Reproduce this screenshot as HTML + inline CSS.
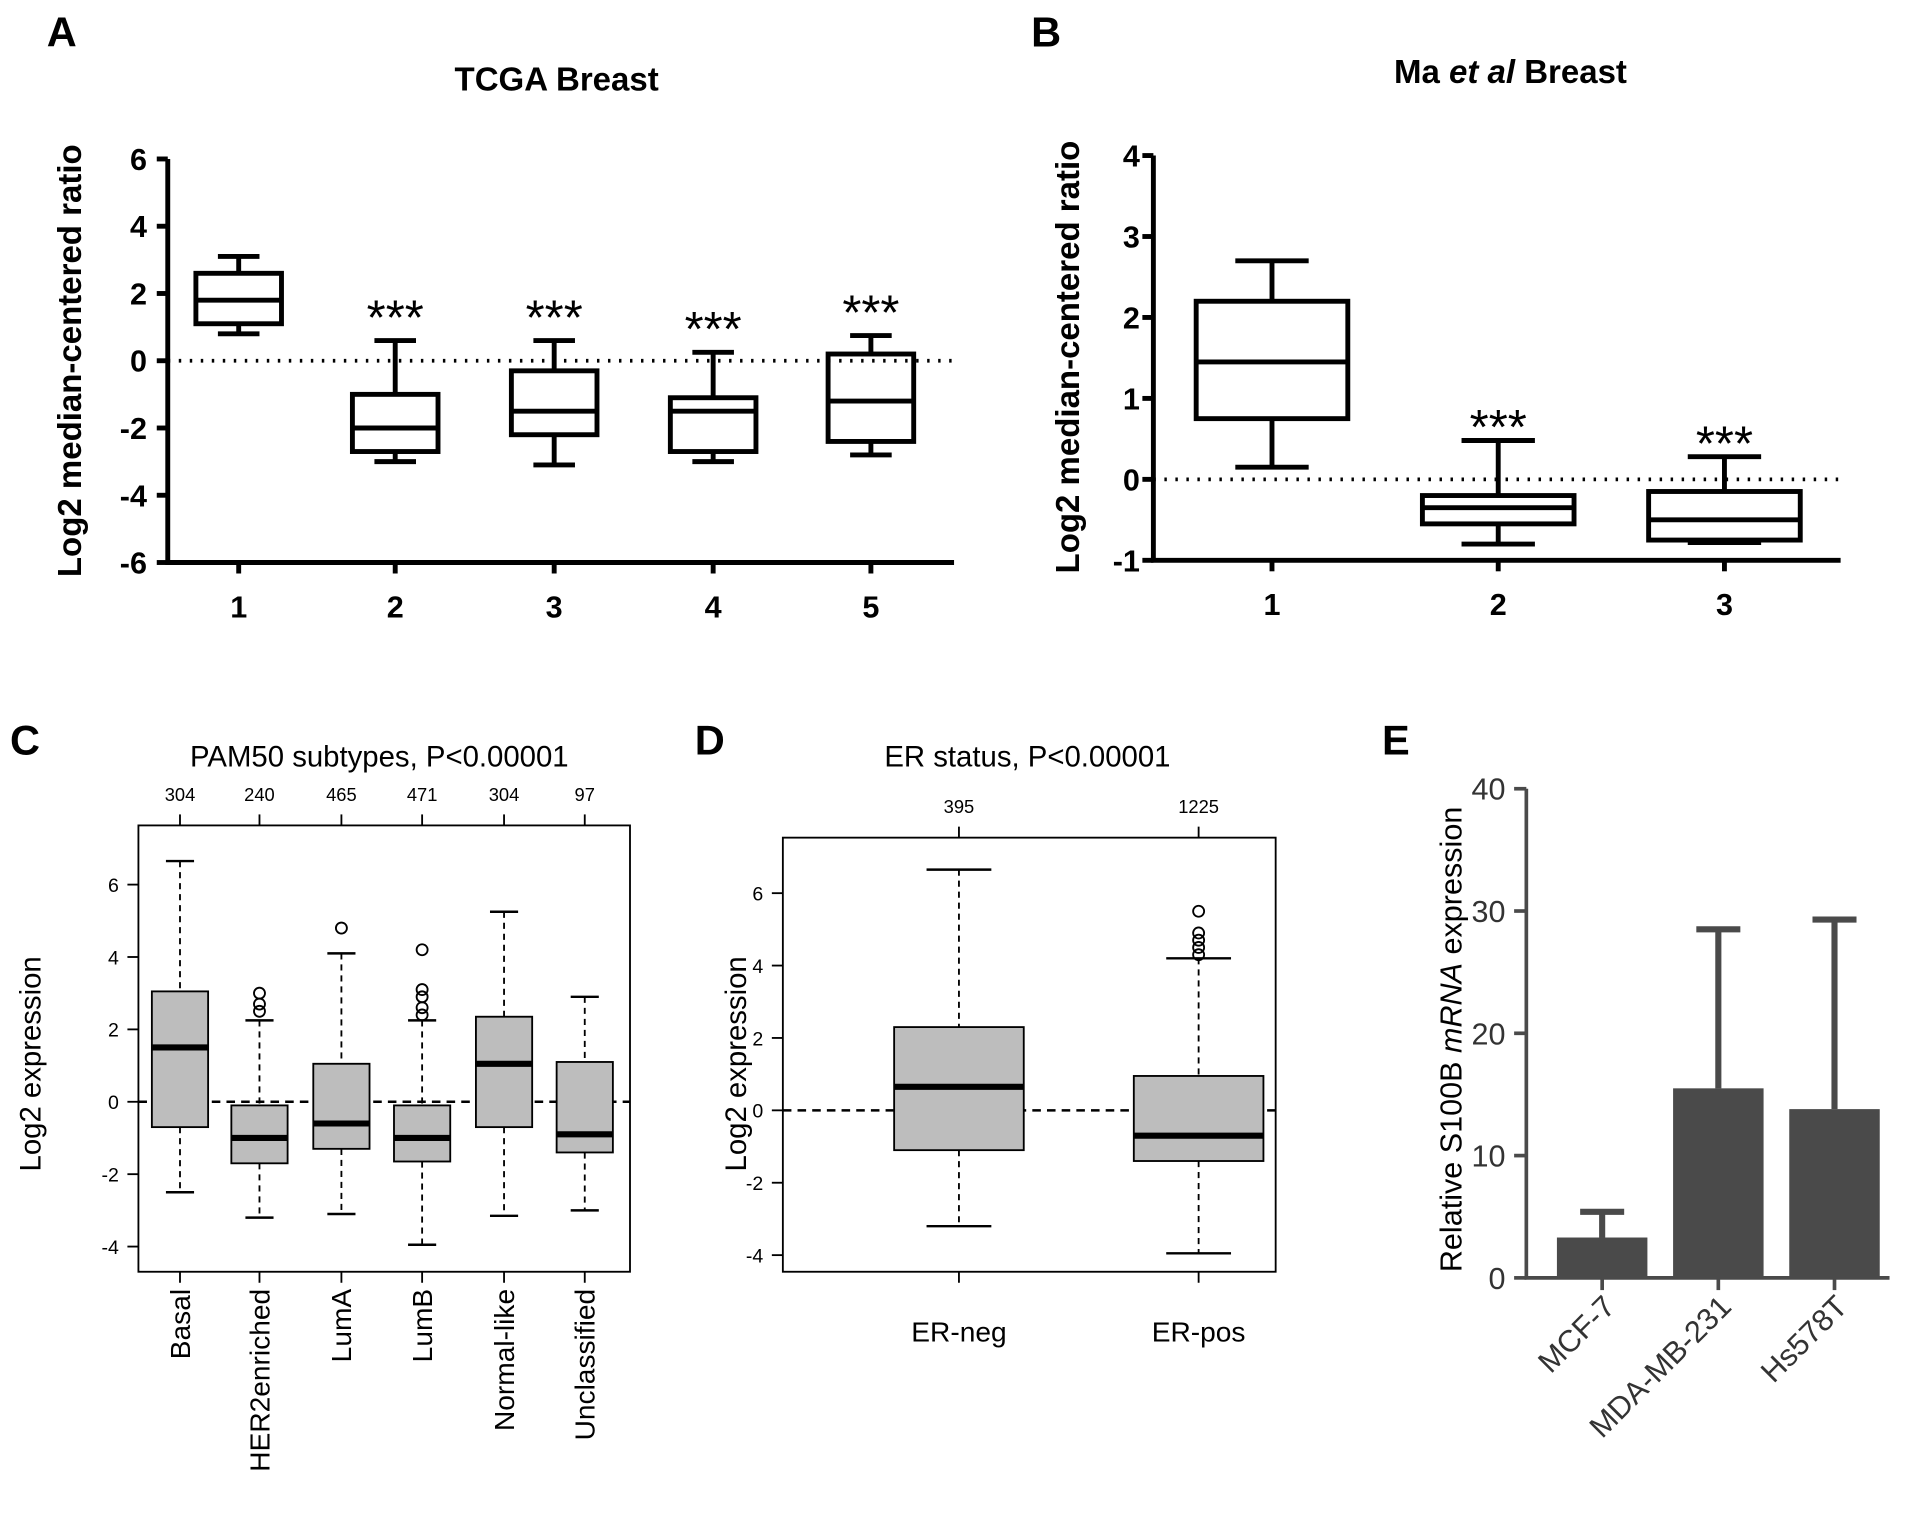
<!DOCTYPE html>
<html><head><meta charset="utf-8"><style>
body{margin:0;background:#fff}
svg{display:block;font-family:"Liberation Sans",Arial,sans-serif}
</style></head><body>
<svg id="fig" width="1913" height="1531" viewBox="0 0 1564 1252" xmlns="http://www.w3.org/2000/svg">
<g id="A"></g>
<g id="B"></g>
<g id="C"></g>
<g id="D"></g>
<g id="E"></g>
</svg>
<script>
// Panel A data
const aCats=["1","2","3","4","5"];
const aLow=[0.8,-3.0,-3.1,-3.0,-2.8];
const aQ1=[1.1,-2.7,-2.2,-2.7,-2.4];
const aMed=[1.8,-2.0,-1.5,-1.5,-1.2];
const aQ3=[2.6,-1.0,-0.3,-1.1,0.2];
const aHigh=[3.1,0.6,0.6,0.25,0.75];
const aTicks=[6,4,2,0,-2,-4,-6];
// Panel B data
const bCats=["1","2","3"];
const bLow=[0.15,-0.8,-0.78];
const bQ1=[0.75,-0.55,-0.75];
const bMed=[1.45,-0.35,-0.5];
const bQ3=[2.2,-0.2,-0.15];
const bHigh=[2.7,0.48,0.28];
const bTicks=[4,3,2,1,0,-1];
// Panel C data
const cCats=["Basal","HER2enriched","LumA","LumB","Normal-like","Unclassified"];
const cCounts=["304","240","465","471","304","97"];
const cLow=[-2.5,-3.2,-3.1,-3.95,-3.15,-3.0];
const cQ1=[-0.7,-1.7,-1.3,-1.65,-0.7,-1.4];
const cMed=[1.5,-1.0,-0.6,-1.0,1.05,-0.9];
const cQ3=[3.05,-0.1,1.05,-0.1,2.35,1.1];
const cHigh=[6.65,2.25,4.1,2.25,5.25,2.9];
const cOut=[[],[2.5,2.7,3.0],[4.8],[2.4,2.6,2.9,3.1,4.2],[],[]];
const cTicks=[6,4,2,0,-2,-4];
// Panel D data
const dCats=["ER-neg","ER-pos"];
const dCounts=["395","1225"];
const dLow=[-3.2,-3.95];
const dQ1=[-1.1,-1.4];
const dMed=[0.65,-0.7];
const dQ3=[2.3,0.95];
const dHigh=[6.65,4.2];
const dOut=[[],[4.3,4.5,4.7,4.9,5.5]];
const dTicks=[6,4,2,0,-2,-4];
// Panel E data
const eCats=["MCF-7","MDA-MB-231","Hs578T"];
const eVals=[3.3,15.5,13.8];
const eErr=[5.4,28.5,29.3];
const eTicks=[0,10,20,30,40];

const NS="http://www.w3.org/2000/svg";
function mk(parent,tag,attrs,text){const e=document.createElementNS(NS,tag);for(const k in attrs)e.setAttribute(k,attrs[k]);if(text!==undefined)e.textContent=text;parent.appendChild(e);return e;}

// ---------- Panel A ----------
(function(){
const g=document.getElementById('A');
const y=v=>295-v*27.5;const xs=[195,323,453,583,712];const bw=70;
let t=mk(g,'text',{x:38,y:38,'font-size':34,'font-weight':'bold'},'A');

t=mk(g,'text',{x:455,y:74,'font-size':27,'font-weight':'bold','text-anchor':'middle'},'TCGA Breast');

t=mk(g,'text',{x:0,y:0,'font-size':27,'font-weight':'bold','text-anchor':'middle',transform:'translate(66,295) rotate(-90)'},'Log2 median-centered ratio');

const ax=mk(g,'path',{d:`M137 ${y(6)}V${y(-6)}H780`,stroke:'#000','stroke-width':4,fill:'none'});

aTicks.forEach(v=>{mk(g,'line',{x1:128,x2:137,y1:y(v),y2:y(v),stroke:'#000','stroke-width':4});
 const l=mk(g,'text',{x:120,y:y(v)+9,'font-size':25,'font-weight':'bold','text-anchor':'end'},String(v));
 });
mk(g,'line',{x1:137,x2:780,y1:y(0),y2:y(0),stroke:'#000','stroke-width':3,'stroke-dasharray':'2 7'});
aCats.forEach((c,i)=>{const x=xs[i];
 mk(g,'line',{x1:x,x2:x,y1:y(-6),y2:y(-6)+9,stroke:'#000','stroke-width':4});
 const l=mk(g,'text',{x:x,y:505,'font-size':25,'font-weight':'bold','text-anchor':'middle'},c);
 
 const b=mk(g,'g',{stroke:'#000','stroke-width':4,fill:'none'});
 
 mk(b,'line',{x1:x,x2:x,y1:y(aHigh[i]),y2:y(aQ3[i])});mk(b,'line',{x1:x,x2:x,y1:y(aQ1[i]),y2:y(aLow[i])});
 mk(b,'line',{x1:x-17,x2:x+17,y1:y(aHigh[i]),y2:y(aHigh[i])});mk(b,'line',{x1:x-17,x2:x+17,y1:y(aLow[i]),y2:y(aLow[i])});
 mk(b,'rect',{x:x-bw/2,y:y(aQ3[i]),width:bw,height:y(aQ1[i])-y(aQ3[i])});
 mk(b,'line',{x1:x-bw/2,x2:x+bw/2,y1:y(aMed[i]),y2:y(aMed[i])});
 if(i>0){const s=mk(g,'text',{x:x,y:y(aHigh[i])-5,'font-size':40,'text-anchor':'middle'},'***');
  }
});
})();

// ---------- Panel B ----------
(function(){
const g=document.getElementById('B');
const y=v=>392-v*66.2;const xs=[1040,1225,1410];const bw=124;const X0=943;
let t=mk(g,'text',{x:843,y:38,'font-size':34,'font-weight':'bold'},'B');

t=mk(g,'text',{x:1235,y:68,'font-size':27,'font-weight':'bold','text-anchor':'middle'});

t.innerHTML='Ma <tspan font-style="italic">et al</tspan> Breast';
t=mk(g,'text',{x:0,y:0,'font-size':27,'font-weight':'bold','text-anchor':'middle',transform:'translate(882,292) rotate(-90)'},'Log2 median-centered ratio');

const ax=mk(g,'path',{d:`M${X0} ${y(4)}V${y(-1)}H1505`,stroke:'#000','stroke-width':4,fill:'none'});

bTicks.forEach(v=>{mk(g,'line',{x1:X0-9,x2:X0,y1:y(v),y2:y(v),stroke:'#000','stroke-width':4});
 const l=mk(g,'text',{x:X0-11,y:y(v)+9,'font-size':25,'font-weight':'bold','text-anchor':'end'},String(v));
 });
mk(g,'line',{x1:X0,x2:1505,y1:y(0),y2:y(0),stroke:'#000','stroke-width':3,'stroke-dasharray':'2 7'});
bCats.forEach((c,i)=>{const x=xs[i];
 mk(g,'line',{x1:x,x2:x,y1:y(-1),y2:y(-1)+9,stroke:'#000','stroke-width':4});
 const l=mk(g,'text',{x:x,y:503,'font-size':25,'font-weight':'bold','text-anchor':'middle'},c);
 
 const b=mk(g,'g',{stroke:'#000','stroke-width':4,fill:'none'});
 
 mk(b,'line',{x1:x,x2:x,y1:y(bHigh[i]),y2:y(bQ3[i])});mk(b,'line',{x1:x,x2:x,y1:y(bQ1[i]),y2:y(bLow[i])});
 mk(b,'line',{x1:x-30,x2:x+30,y1:y(bHigh[i]),y2:y(bHigh[i])});mk(b,'line',{x1:x-30,x2:x+30,y1:y(bLow[i]),y2:y(bLow[i])});
 mk(b,'rect',{x:x-bw/2,y:y(bQ3[i]),width:bw,height:y(bQ1[i])-y(bQ3[i])});
 mk(b,'line',{x1:x-bw/2,x2:x+bw/2,y1:y(bMed[i]),y2:y(bMed[i])});
 if(i>0){const s=mk(g,'text',{x:x,y:y(bHigh[i])+3,'font-size':40,'text-anchor':'middle'},'***');
  }
});
})();

// ---------- R-style boxplot helper for C and D ----------
function rbox(g,cfg){
 const {x0,x1,yTop,yBot,y,xs,bw,cats,counts,low,q1,med,q3,high,out,ticks,title,titleX,rotLabels}=cfg;
 const fr=mk(g,'rect',{x:x0,y:yTop,width:x1-x0,height:yBot-yTop,fill:'none',stroke:'#000','stroke-width':1.5});
 
 let t=mk(g,'text',{x:titleX,y:627,'font-size':24,'text-anchor':'middle'},title);
 
 ticks.forEach(v=>{mk(g,'line',{x1:x0-9,x2:x0,y1:y(v),y2:y(v),stroke:'#000','stroke-width':1.5});
  const l=mk(g,'text',{x:x0-16,y:y(v)+6,'font-size':16,'text-anchor':'end'},String(v));
  });
 mk(g,'line',{x1:x0,x2:x1,y1:y(0),y2:y(0),stroke:'#000','stroke-width':2,'stroke-dasharray':'7 5'});
 cats.forEach((c,i)=>{const x=xs[i];
  mk(g,'line',{x1:x,x2:x,y1:yTop-9,y2:yTop,stroke:'#000','stroke-width':1.5});
  mk(g,'line',{x1:x,x2:x,y1:yBot,y2:yBot+9,stroke:'#000','stroke-width':1.5});
  const n=mk(g,'text',{x:x,y:yTop-20,'font-size':15,'text-anchor':'middle'},counts[i]);
  
  let l;
  if(rotLabels){l=mk(g,'text',{x:0,y:0,'font-size':23,'text-anchor':'end',transform:`translate(${x+8},${yBot+14}) rotate(-90)`},c);}
  else{l=mk(g,'text',{x:x,y:yBot+57,'font-size':23,'text-anchor':'middle'},c);}
  
  const b=mk(g,'g',{stroke:'#000'});
  
  mk(b,'line',{x1:x,x2:x,y1:y(high[i]),y2:y(q3[i]),'stroke-width':1.5,'stroke-dasharray':'5 4'});
  mk(b,'line',{x1:x,x2:x,y1:y(q1[i]),y2:y(low[i]),'stroke-width':1.5,'stroke-dasharray':'5 4'});
  mk(b,'line',{x1:x-bw/4,x2:x+bw/4,y1:y(high[i]),y2:y(high[i]),'stroke-width':2});
  mk(b,'line',{x1:x-bw/4,x2:x+bw/4,y1:y(low[i]),y2:y(low[i]),'stroke-width':2});
  mk(b,'rect',{x:x-bw/2,y:y(q3[i]),width:bw,height:y(q1[i])-y(q3[i]),fill:'#bdbdbd','stroke-width':1.5});
  mk(b,'line',{x1:x-bw/2,x2:x+bw/2,y1:y(med[i]),y2:y(med[i]),'stroke-width':5});
  out[i].forEach(v=>mk(b,'circle',{cx:x,cy:y(v),r:4.5,fill:'none','stroke-width':1.5}));
 });
}
(function(){
const g=document.getElementById('C');
let t=mk(g,'text',{x:8,y:617,'font-size':34,'font-weight':'bold'},'C');

t=mk(g,'text',{x:0,y:0,'font-size':24,'text-anchor':'middle',transform:'translate(33,870) rotate(-90)'},'Log2 expression');

rbox(g,{x0:113,x1:515,yTop:675,yBot:1040,y:v=>901-v*29.6,xs:[147,212,279,345,412,478],bw:46,
 cats:cCats,counts:cCounts,low:cLow,q1:cQ1,med:cMed,q3:cQ3,high:cHigh,out:cOut,ticks:cTicks,
 title:'PAM50 subtypes, P<0.00001',titleX:310,rotLabels:true});
})();
(function(){
const g=document.getElementById('D');
let t=mk(g,'text',{x:568,y:617,'font-size':34,'font-weight':'bold'},'D');

t=mk(g,'text',{x:0,y:0,'font-size':24,'text-anchor':'middle',transform:'translate(610,870) rotate(-90)'},'Log2 expression');

rbox(g,{x0:640,x1:1043,yTop:685,yBot:1040,y:v=>908-v*29.6,xs:[784,980],bw:106,
 cats:dCats,counts:dCounts,low:dLow,q1:dQ1,med:dMed,q3:dQ3,high:dHigh,out:dOut,ticks:dTicks,
 title:'ER status, P<0.00001',titleX:840,rotLabels:false});
})();

// ---------- Panel E ----------
(function(){
const g=document.getElementById('E');
const y=v=>1045-v*10;const xs=[1310,1405,1500];const bw=74;
let t=mk(g,'text',{x:1130,y:617,'font-size':34,'font-weight':'bold'},'E');

t=mk(g,'text',{x:0,y:0,'font-size':25,'text-anchor':'middle',transform:'translate(1195,850) rotate(-90)'});

t.innerHTML='Relative S100B <tspan font-style="italic">mRNA</tspan> expression';
eTicks.forEach(v=>{mk(g,'line',{x1:1238,x2:1248,y1:y(v),y2:y(v),stroke:'#4a4a4a','stroke-width':3});
 const l=mk(g,'text',{x:1231,y:y(v)+9,'font-size':25,'text-anchor':'end',fill:'#333'},String(v));
 });
eCats.forEach((c,i)=>{const x=xs[i];
 const e=mk(g,'path',{d:`M${x} ${y(eVals[i])}V${y(eErr[i])}M${x-18} ${y(eErr[i])}H${x+18}`,stroke:'#4a4a4a','stroke-width':5,fill:'none'});
 
 const r=mk(g,'rect',{x:x-bw/2,y:y(eVals[i]),width:bw,height:y(0)-y(eVals[i]),fill:'#4a4a4a'});
 
 mk(g,'line',{x1:x,x2:x,y1:y(0),y2:y(0)+10,stroke:'#4a4a4a','stroke-width':3});
 const l=mk(g,'text',{x:0,y:0,'font-size':25,'text-anchor':'end',fill:'#333',transform:`translate(${x+12},${y(0)+25}) rotate(-45)`},c);
 
});
const ax=mk(g,'path',{d:`M1248 ${y(40)}V${y(0)}H1545`,stroke:'#4a4a4a','stroke-width':3,fill:'none'});

})();
</script>
</body></html>
